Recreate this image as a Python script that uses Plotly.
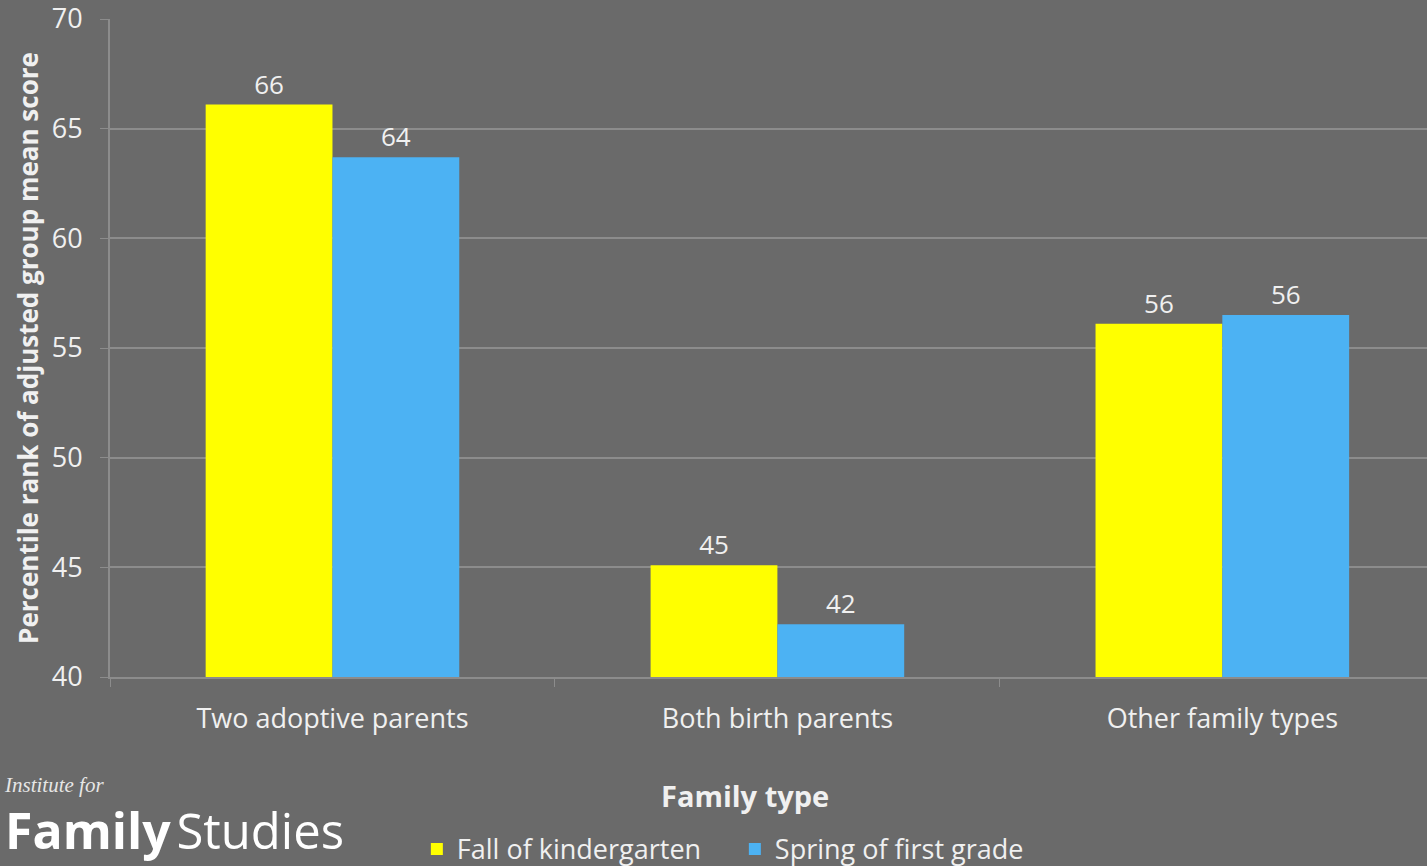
import plotly.graph_objects as go

categories = ["Two adoptive parents", "Both birth parents", "Other family types"]
fall_k = [66.1, 45.1, 56.1]
spring_1 = [63.7, 42.4, 56.5]
fall_labels = ["66", "45", "56"]
spring_labels = ["64", "42", "56"]
y_ticks = [40, 45, 50, 55, 60, 65, 70]

BG = "#6a6a6a"
GRID = "#8c8c8c"
TXT = "#f0f0f0"
FONT = "Open Sans"

fig = go.Figure()
fig.add_trace(go.Bar(
    x=categories, y=fall_k, name="Fall of kindergarten",
    marker=dict(color="#ffff00", line=dict(width=0)),
    text=fall_labels, textposition="outside",
    textfont=dict(color=TXT, size=26, family=FONT), cliponaxis=False,
))
fig.add_trace(go.Bar(
    x=categories, y=spring_1, name="Spring of first grade",
    marker=dict(color="#4cb2f3", line=dict(width=0)),
    text=spring_labels, textposition="outside",
    textfont=dict(color=TXT, size=26, family=FONT), cliponaxis=False,
))

logo = ("<span style=\"font-family:'Liberation Serif';font-size:21px;font-style:italic;fill:#e6e6e6\">"
        "Institute for</span><br>"
        "<span style=\"font-size:50px\"><b>Family</b></span>"
        "<span style=\"font-size:22px\"> </span>"
        "<span style=\"font-size:49px\">Studies</span>")

fig.update_layout(
    width=1427, height=866,
    paper_bgcolor=BG, plot_bgcolor=BG,
    margin=dict(l=110, r=0, t=19, b=189, autoexpand=False),
    barmode="group", bargap=0.43, bargroupgap=0,
    font=dict(family=FONT, color=TXT, size=24),
    showlegend=True,
    legend=dict(
        orientation="h", x=0.233, xanchor="left", y=-0.262, yanchor="middle",
        font=dict(size=27, color=TXT, family=FONT),
        bgcolor="rgba(0,0,0,0)", itemwidth=30, entrywidth=273,
    ),
    xaxis=dict(
        range=[-0.5, 2.46], showgrid=False, automargin=False,
        showline=True, linecolor=GRID, linewidth=2,
        ticks="outside", tickson="boundaries", ticklen=8, tickcolor=GRID,
        tickfont=dict(size=27, color=TXT, family=FONT),
        ticklabelstandoff=17,
    ),
    yaxis=dict(
        range=[40, 70], tickvals=y_ticks, automargin=False,
        showgrid=True, gridcolor=GRID, gridwidth=2,
        showline=True, linecolor=GRID, linewidth=2,
        ticks="outside", ticklen=8, tickcolor=GRID,
        tickfont=dict(size=27, color=TXT, family=FONT),
        ticklabelstandoff=12, ticklabeloverflow="allow",
        zeroline=False,
        title=dict(text="<b>Percentile rank of adjusted group mean score</b>",
                   font=dict(size=26, color=TXT, family=FONT), standoff=6),
    ),
    annotations=[
        dict(text="<b>Family type</b>", xref="paper", yref="paper",
             x=(745 - 110) / 1317, y=(677 - 795) / 658, xanchor="center", yanchor="middle",
             showarrow=False, font=dict(size=29, color=TXT, family=FONT)),
        dict(text=logo, xref="paper", yref="paper", align="left",
             x=(2 - 110) / 1317, y=(677 - 866) / 658, xanchor="left", yanchor="bottom",
             showarrow=False, font=dict(size=44, color="#ffffff", family=FONT)),
    ],
)

fig.write_html("out.html")
